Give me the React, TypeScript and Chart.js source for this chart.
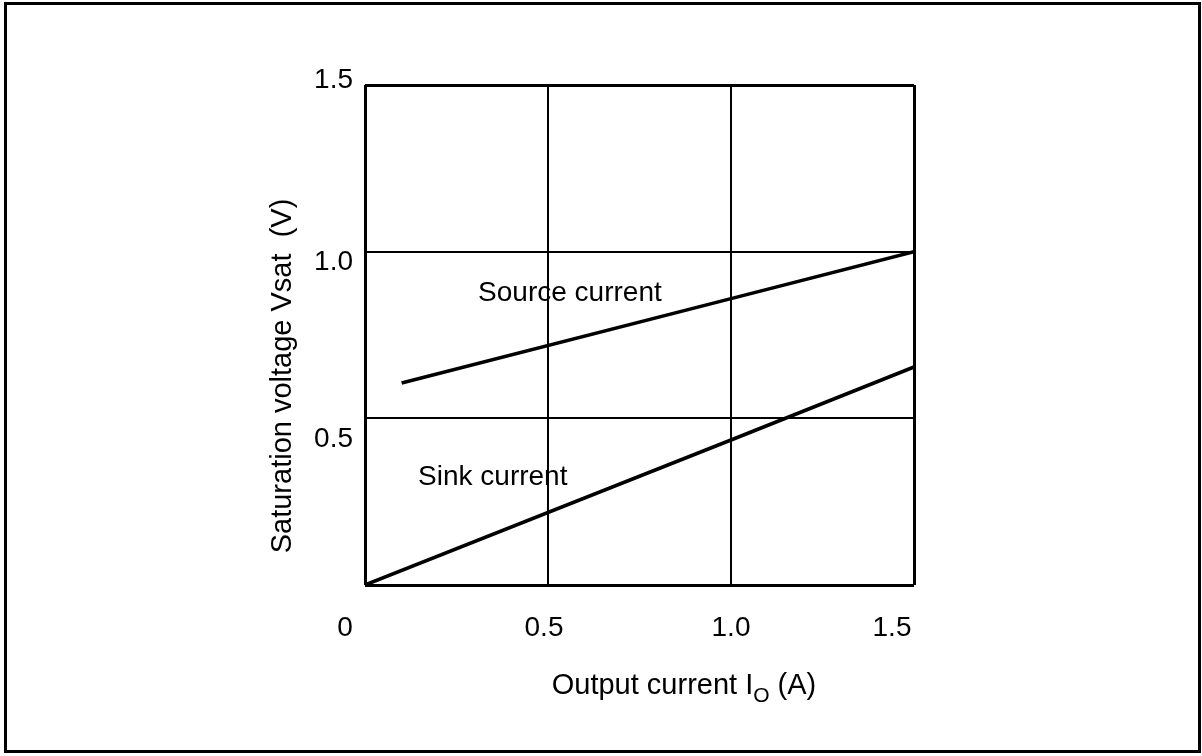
import React, { useEffect, useRef } from "react";
import { Chart, registerables } from "chart.js";

Chart.register(...registerables);

const sourceCurrentA = [0.1, 1.0, 1.5];
const sourceVoltageV = [0.606, 0.859, 1.0];
const sinkCurrentA = [0.0, 1.0, 1.5];
const sinkVoltageV = [0.0, 0.435, 0.654];

const xTickValues = [0, 0.5, 1.0, 1.5];
const xTickLabels = ["0", "0.5", "1.0", "1.5"];
const yTickValues = [0.5, 1.0, 1.5];
const yTickLabels = ["0.5", "1.0", "1.5"];

const seriesLabels = ["Source current", "Sink current"];
// label anchors in data units (A, V)
const labelAnchorX = [0.309, 0.145];
const labelAnchorY = [0.876, 0.324];

const xTitleMain = "Output current I";
const xTitleSub = "O";
const xTitleTail = " (A)";
const yTitle = "Saturation voltage Vsat  (V)";

const FONT = "'Liberation Sans', Arial, Helvetica, sans-serif";

export default function App() {
  const ref = useRef<HTMLCanvasElement | null>(null);

  useEffect(() => {
    document.body.style.margin = "0";
    const canvas = ref.current;
    if (!canvas) return;

    const xOffsets = [-20, -4, 0, -22];
    const yOffsets = [21, 11, -5];

    const drawPlugin = {
      id: "decor",
      beforeDraw(chart: any) {
        const ctx = chart.ctx;
        ctx.save();
        ctx.fillStyle = "#ffffff";
        ctx.fillRect(0, 0, chart.width, chart.height);
        ctx.restore();
      },
      afterDraw(chart: any) {
        const ctx = chart.ctx;
        const xs = chart.scales.x;
        const ys = chart.scales.y;
        ctx.save();
        // outer frame
        ctx.strokeStyle = "#000";
        ctx.lineWidth = 3;
        ctx.strokeRect(5.5, 3.5, 1194, 748);

        ctx.fillStyle = "#000";
        ctx.font = `28px ${FONT}`;
        // x tick labels
        ctx.textAlign = "center";
        ctx.textBaseline = "middle";
        xTickValues.forEach((v, i) => {
          ctx.fillText(xTickLabels[i], xs.getPixelForValue(v) + xOffsets[i], 628);
        });
        // y tick labels
        ctx.textAlign = "right";
        yTickValues.forEach((v, i) => {
          ctx.fillText(yTickLabels[i], 353, ys.getPixelForValue(v) + yOffsets[i]);
        });
        // series labels
        ctx.textAlign = "left";
        seriesLabels.forEach((t, i) => {
          ctx.fillText(t, xs.getPixelForValue(labelAnchorX[i]), ys.getPixelForValue(labelAnchorY[i]));
        });
        // x title with subscript
        ctx.textBaseline = "alphabetic";
        const mainFont = `29px ${FONT}`;
        const subFont = `21px ${FONT}`;
        ctx.font = mainFont;
        const w1 = ctx.measureText(xTitleMain).width;
        const w3 = ctx.measureText(xTitleTail).width;
        ctx.font = subFont;
        const w2 = ctx.measureText(xTitleSub).width;
        const total = w1 + w2 + w3;
        let x0 = 684 - total / 2;
        const base = 694;
        ctx.font = mainFont;
        ctx.fillText(xTitleMain, x0, base);
        ctx.font = subFont;
        ctx.fillText(xTitleSub, x0 + w1, base + 8);
        ctx.font = mainFont;
        ctx.fillText(xTitleTail, x0 + w1 + w2, base);
        // y title
        ctx.translate(283, 376);
        ctx.rotate(-Math.PI / 2);
        ctx.textAlign = "center";
        ctx.textBaseline = "middle";
        ctx.font = mainFont;
        ctx.fillText(yTitle, 0, 0);
        ctx.restore();
      },
    };

    const edgeWidth = (ctx: any) => {
      const v = ctx.tick ? ctx.tick.value : 0;
      return v === 0 || v === 1.5 ? 3 : 2;
    };

    const chart = new Chart(canvas, {
      type: "line",
      data: {
        datasets: [
          {
            label: seriesLabels[0],
            data: sourceCurrentA.map((x, i) => ({ x, y: sourceVoltageV[i] })),
            borderColor: "#000",
            borderWidth: 3.5,
            pointRadius: 0,
            tension: 0,
          },
          {
            label: seriesLabels[1],
            data: sinkCurrentA.map((x, i) => ({ x, y: sinkVoltageV[i] })),
            borderColor: "#000",
            borderWidth: 3.5,
            pointRadius: 0,
            tension: 0,
          },
        ],
      },
      options: {
        responsive: false,
        animation: false,
        devicePixelRatio: 1,
        layout: { padding: { left: 365, top: 85, right: 288, bottom: 171 } },
        plugins: {
          legend: { display: false },
          tooltip: { enabled: false },
          title: { display: false },
        },
        scales: {
          x: {
            type: "linear",
            min: 0,
            max: 1.5,
            ticks: { stepSize: 0.5, display: false },
            grid: { color: "#000", lineWidth: edgeWidth, drawTicks: false },
            border: { display: false },
            afterFit: (s: any) => {
              s.height = 0;
            },
          },
          y: {
            type: "linear",
            min: 0,
            max: 1.5,
            ticks: { stepSize: 0.5, display: false },
            grid: { color: "#000", lineWidth: edgeWidth, drawTicks: false },
            border: { display: false },
            afterFit: (s: any) => {
              s.width = 0;
            },
          },
        },
      },
      plugins: [drawPlugin],
    });

    return () => chart.destroy();
  }, []);

  return (
    <div style={{ position: "absolute", left: 0, top: 0, width: 1202, height: 756 }}>
      <canvas ref={ref} width={1202} height={756} />
    </div>
  );
}
